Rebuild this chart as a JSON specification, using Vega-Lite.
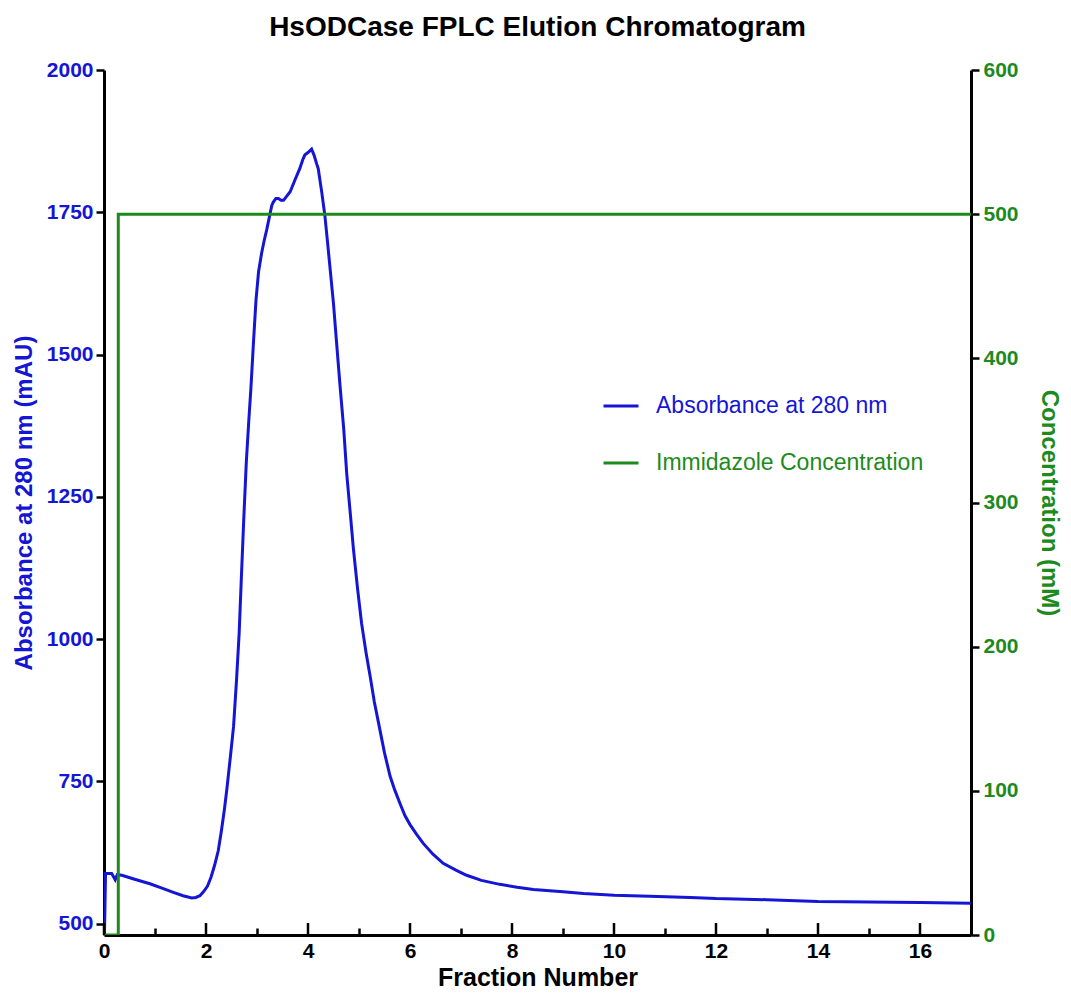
{
  "$schema": "https://vega.github.io/schema/vega-lite/v6.json",
  "width": 867,
  "height": 865,
  "autosize": {"type": "none"},
  "padding": {"left": 104, "top": 70, "right": 100, "bottom": 58},
  "background": "white",
  "title": {
    "text": "HsODCase FPLC Elution Chromatogram",
    "font": "Liberation Sans",
    "fontSize": 28,
    "fontWeight": "bold",
    "color": "black",
    "anchor": "middle",
    "offset": 17
  },
  "config": {
    "view": {"stroke": null},
    "axis": {"grid": false, "domainColor": "black", "domainWidth": 3, "tickColor": "black", "tickWidth": 2.5, "labelFont": "Liberation Sans", "labelFontWeight": "bold", "labelFontSize": 21, "titleFont": "Liberation Sans", "titleFontWeight": "bold", "titleFontSize": 24}
  },
  "datasets": {
    "absorbance": [
      {"fraction": 0.01, "mAU": 485}, {"fraction": 0.03, "mAU": 588}, {"fraction": 0.15, "mAU": 588}, {"fraction": 0.19, "mAU": 582},
      {"fraction": 0.22, "mAU": 577}, {"fraction": 0.26, "mAU": 586}, {"fraction": 0.35, "mAU": 585}, {"fraction": 0.6, "mAU": 578},
      {"fraction": 0.9, "mAU": 570}, {"fraction": 1.15, "mAU": 562}, {"fraction": 1.36, "mAU": 555}, {"fraction": 1.55, "mAU": 549},
      {"fraction": 1.72, "mAU": 545}, {"fraction": 1.8, "mAU": 546}, {"fraction": 1.88, "mAU": 549}, {"fraction": 1.95, "mAU": 556},
      {"fraction": 2.03, "mAU": 566}, {"fraction": 2.1, "mAU": 582}, {"fraction": 2.17, "mAU": 603}, {"fraction": 2.24, "mAU": 628},
      {"fraction": 2.3, "mAU": 662}, {"fraction": 2.36, "mAU": 700}, {"fraction": 2.41, "mAU": 737}, {"fraction": 2.48, "mAU": 795},
      {"fraction": 2.54, "mAU": 846}, {"fraction": 2.6, "mAU": 930}, {"fraction": 2.65, "mAU": 1010}, {"fraction": 2.69, "mAU": 1100},
      {"fraction": 2.74, "mAU": 1210}, {"fraction": 2.79, "mAU": 1310}, {"fraction": 2.84, "mAU": 1385}, {"fraction": 2.88, "mAU": 1440},
      {"fraction": 2.93, "mAU": 1520}, {"fraction": 2.98, "mAU": 1595}, {"fraction": 3.03, "mAU": 1645}, {"fraction": 3.09, "mAU": 1678},
      {"fraction": 3.14, "mAU": 1700}, {"fraction": 3.19, "mAU": 1719}, {"fraction": 3.25, "mAU": 1745}, {"fraction": 3.29, "mAU": 1762},
      {"fraction": 3.32, "mAU": 1768}, {"fraction": 3.37, "mAU": 1774}, {"fraction": 3.42, "mAU": 1774}, {"fraction": 3.47, "mAU": 1771},
      {"fraction": 3.52, "mAU": 1771}, {"fraction": 3.58, "mAU": 1778}, {"fraction": 3.65, "mAU": 1786}, {"fraction": 3.75, "mAU": 1808},
      {"fraction": 3.84, "mAU": 1827}, {"fraction": 3.9, "mAU": 1843}, {"fraction": 3.94, "mAU": 1851}, {"fraction": 4.0, "mAU": 1855},
      {"fraction": 4.07, "mAU": 1861}, {"fraction": 4.12, "mAU": 1850}, {"fraction": 4.17, "mAU": 1835}, {"fraction": 4.2, "mAU": 1827},
      {"fraction": 4.27, "mAU": 1785}, {"fraction": 4.33, "mAU": 1745}, {"fraction": 4.38, "mAU": 1700}, {"fraction": 4.43, "mAU": 1654},
      {"fraction": 4.5, "mAU": 1589}, {"fraction": 4.57, "mAU": 1510}, {"fraction": 4.63, "mAU": 1443}, {"fraction": 4.7, "mAU": 1370},
      {"fraction": 4.76, "mAU": 1290}, {"fraction": 4.83, "mAU": 1220}, {"fraction": 4.89, "mAU": 1159}, {"fraction": 4.97, "mAU": 1090},
      {"fraction": 5.05, "mAU": 1028}, {"fraction": 5.14, "mAU": 975}, {"fraction": 5.22, "mAU": 934}, {"fraction": 5.3, "mAU": 890},
      {"fraction": 5.38, "mAU": 854}, {"fraction": 5.5, "mAU": 800}, {"fraction": 5.61, "mAU": 759}, {"fraction": 5.7, "mAU": 735},
      {"fraction": 5.8, "mAU": 712}, {"fraction": 5.9, "mAU": 690}, {"fraction": 6.0, "mAU": 674}, {"fraction": 6.13, "mAU": 657},
      {"fraction": 6.26, "mAU": 641}, {"fraction": 6.45, "mAU": 622}, {"fraction": 6.65, "mAU": 606}, {"fraction": 6.9, "mAU": 594},
      {"fraction": 7.11, "mAU": 585}, {"fraction": 7.4, "mAU": 576}, {"fraction": 7.76, "mAU": 569}, {"fraction": 8.1, "mAU": 564},
      {"fraction": 8.42, "mAU": 560}, {"fraction": 9.0, "mAU": 556}, {"fraction": 9.4, "mAU": 553}, {"fraction": 10.0, "mAU": 550},
      {"fraction": 10.7, "mAU": 548}, {"fraction": 11.5, "mAU": 546}, {"fraction": 12.0, "mAU": 544}, {"fraction": 13.0, "mAU": 542},
      {"fraction": 14.0, "mAU": 539}, {"fraction": 15.0, "mAU": 538}, {"fraction": 16.0, "mAU": 537}, {"fraction": 17.0, "mAU": 536}
    ],
    "imidazole": [
      {"fraction": 0, "mM": 0}, {"fraction": 0.28, "mM": 500}, {"fraction": 17, "mM": 500}
    ],
    "majorTicks": [
      {"fraction": 0}, {"fraction": 2}, {"fraction": 4}, {"fraction": 6}, {"fraction": 8},
      {"fraction": 10}, {"fraction": 12}, {"fraction": 14}, {"fraction": 16}
    ]
  },
  "layer": [
    {
      "data": {"name": "absorbance"},
      "mark": {"type": "line", "strokeWidth": 3, "clip": true},
      "encoding": {
        "x": {
          "field": "fraction", "type": "quantitative",
          "scale": {"domain": [0, 17], "nice": false, "zero": false},
          "axis": {"orient": "bottom", "title": "Fraction Number", "values": [0, 2, 4, 6, 8, 10, 12, 14, 16], "ticks": false, "labelPadding": 5, "labelColor": "black", "titleColor": "black", "titleFontSize": 25, "titlePadding": 4, "labelFlush": false}
        },
        "y": {
          "field": "mAU", "type": "quantitative",
          "scale": {"domain": [480, 2000], "nice": false, "zero": false},
          "axis": {"title": "Absorbance at 280 nm (mAU)", "format": "d", "values": [500, 750, 1000, 1250, 1500, 1750, 2000], "tickSize": 8, "labelPadding": 3, "labelColor": "#1515d5", "titleColor": "#1515d5", "titlePadding": 10}
        },
        "color": {
          "datum": "Absorbance at 280 nm",
          "type": "nominal",
          "scale": {"domain": ["Absorbance at 280 nm", "Immidazole Concentration"], "range": ["#1515d5", "#1d8a1d"]},
          "legend": {
            "title": null, "orient": "none", "legendX": 498, "legendY": 317,
            "symbolType": "stroke", "symbolSize": 1225, "symbolStrokeWidth": 3,
            "labelFont": "Liberation Sans", "labelFontSize": 23, "labelOffset": 16, "rowPadding": 26, "labelLimit": 500,
            "encode": {"labels": {"update": {"fill": {"signal": "datum.value === 'Absorbance at 280 nm' ? '#1515d5' : '#1d8a1d'"}}}}
          }
        }
      }
    },
    {
      "data": {"name": "imidazole"},
      "mark": {"type": "line", "strokeWidth": 3, "interpolate": "step-after", "clip": true},
      "encoding": {
        "x": {
          "field": "fraction", "type": "quantitative",
          "axis": {"orient": "bottom", "title": null, "values": [1, 3, 5, 7, 9, 11, 13, 15, 17], "tickSize": -7, "labels": false, "domain": false}
        },
        "y": {
          "field": "mM", "type": "quantitative",
          "scale": {"domain": [0, 600], "nice": false},
          "axis": {"orient": "right", "title": "Concentration (mM)", "values": [0, 100, 200, 300, 400, 500, 600], "tickSize": 8, "labelPadding": 4, "labelColor": "#1d8a1d", "titleColor": "#1d8a1d", "titlePadding": 18}
        },
        "color": {"datum": "Immidazole Concentration", "type": "nominal"}
      }
    },
    {
      "data": {"name": "majorTicks"},
      "mark": {"type": "rule", "color": "black", "strokeWidth": 2.5},
      "encoding": {
        "x": {"field": "fraction", "type": "quantitative", "axis": null},
        "y": {"datum": 480, "type": "quantitative", "scale": {"domain": [480, 2000], "nice": false, "zero": false}, "axis": null},
        "y2": {"datum": 501}
      }
    }
  ],
  "resolve": {"scale": {"y": "independent"}, "axis": {"x": "independent"}}
}
